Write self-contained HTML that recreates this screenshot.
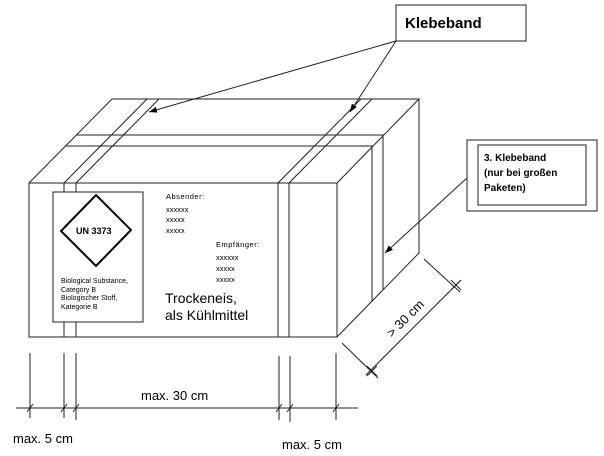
<!DOCTYPE html>
<html><head><meta charset="utf-8"><style>
html,body{margin:0;padding:0;background:#fff;}
svg{display:block;}
text{font-family:"Liberation Sans",Arial,sans-serif;fill:#000;}
</style></head><body>
<svg width="604" height="456" viewBox="0 0 604 456" xmlns="http://www.w3.org/2000/svg">
<defs><marker id="ah" markerWidth="8" markerHeight="6" refX="8" refY="3" orient="auto" markerUnits="userSpaceOnUse"><path d="M0,0 L8,3 L0,6z" fill="#000"/></marker></defs>
<g stroke="#222" stroke-width="1" fill="none">
<!-- front face -->
<rect x="29" y="183" width="308" height="154"/>
<!-- top face -->
<path d="M29,183 L112,99 L419,99 L337,183"/>
<!-- right face -->
<path d="M419,99 L419,253 L337,337"/>
<!-- front tapes -->
<path d="M64,183 V192 M64,322 V337 M76,183 V192 M76,322 V337"/>
<path d="M278,183 V337 M289,183 V337"/>
<!-- tapes over top -->
<path d="M64,183 L147,99 M76,183 L159,99"/>
<path d="M278,183 L361,99 M289,183 L372,99"/>
<!-- horizontal band on top and right -->
<path d="M76,135 L383,135 L383,290 M66,146 L372,146 L372,302"/>
<!-- label -->
<rect x="53" y="192" width="90" height="130" fill="#fff"/>
<path d="M96,195 L131,230 L96,266 L61,231 Z" stroke="#000" stroke-width="2"/>
<!-- bottom dims -->
<path d="M16,408 H358"/>
<path d="M30,353 V418 M64,353 V418 M76,353 V420 M279,356 V420 M290,356 V422 M336,353 V420"/>
<path d="M27,412 L33,404 M61,412 L67,404 M73,412 L79,404 M276,412 L282,404 M287,412 L293,404 M333,412 L339,404"/>
<!-- depth dim -->
<path d="M342,343 L378,378 M424,259 L460,292 M366,375 L461,280"/>
<path d="M367,366 L377,376 M367,376 L377,366 M451,280 L461,290 M451,290 L461,280"/>
<!-- callouts -->
<rect x="396" y="5" width="130" height="36"/>
<rect x="467" y="140" width="130" height="71"/>
<rect x="478" y="145" width="108" height="60"/>
</g>
<g stroke="#222" stroke-width="1" fill="none" marker-end="url(#ah)">
<line x1="396" y1="41" x2="149" y2="112"/>
<line x1="396" y1="41" x2="350" y2="112"/>
<line x1="467" y1="178" x2="385" y2="253"/>
</g>
<text x="76" y="234" font-size="9" font-weight="bold">UN 3373</text>
<g font-size="7">
<text x="61" y="283">Biological Substance,</text>
<text x="61" y="292">Category B</text>
<text x="61" y="300">Biologischer Stoff,</text>
<text x="61" y="309">Kategorie B</text>
</g>
<g font-size="7.5">
<text x="166" y="199" letter-spacing="0.5">Absender:</text>
<text x="166" y="212">xxxxxx</text>
<text x="166" y="222">xxxxx</text>
<text x="166" y="233">xxxxx</text>
<text x="216" y="247" letter-spacing="0.5">Empfänger:</text>
<text x="216" y="260">xxxxxx</text>
<text x="216" y="271">xxxxx</text>
<text x="216" y="282">xxxxx</text>
</g>
<text x="165" y="303" font-size="14">Trockeneis,</text>
<text x="165" y="320" font-size="14">als Kühlmittel</text>
<text x="405" y="28" font-size="15" font-weight="bold">Klebeband</text>
<g font-size="10" font-weight="bold">
<text x="484" y="161">3. Klebeband</text>
<text x="484" y="176">(nur bei großen</text>
<text x="484" y="191">Paketen)</text>
</g>
<text x="141" y="400" font-size="13">max. 30 cm</text>
<text x="13" y="443" font-size="13">max. 5 cm</text>
<text x="282" y="449" font-size="13">max. 5 cm</text>
<text x="0" y="0" font-size="13" transform="translate(392,338) rotate(-45)">&gt; 30 cm</text>
</svg>
</body></html>
